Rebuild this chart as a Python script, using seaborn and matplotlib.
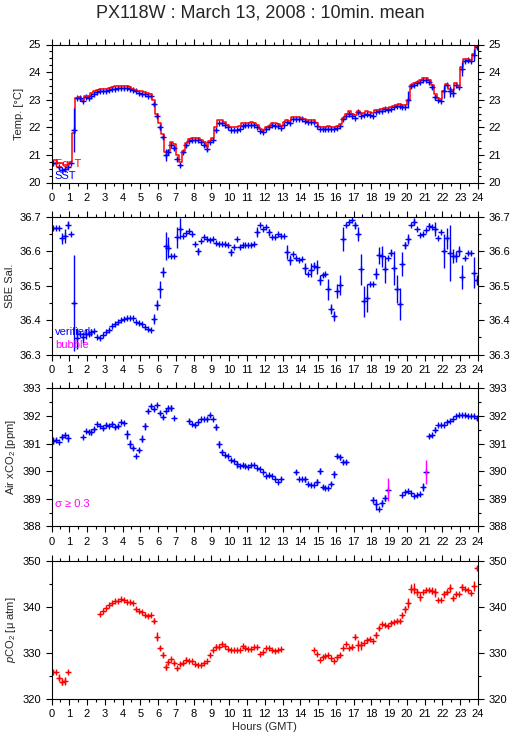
import numpy as np
import matplotlib
matplotlib.use('Agg')
import matplotlib.pyplot as plt
import seaborn as sns
from matplotlib.ticker import MultipleLocator, FormatStrFormatter

nan = np.nan

# ── 10-minute means, 144 bins, one row per hour ─────────────────────────────
sst = [
    20.72, 20.70, 20.55, 20.45, 20.50, 20.55,
    20.70, 21.90, 23.05, 23.05, 22.95, 23.10,
    23.05, 23.15, 23.22, 23.28, 23.30, 23.33,
    23.33, 23.35, 23.37, 23.40, 23.42, 23.42,
    23.42, 23.42, 23.40, 23.35, 23.30, 23.25,
    23.22, 23.20, 23.15, 23.12, 22.85, 22.40,
    22.00, 21.65, 21.00, 21.10, 21.35, 21.25,
    20.85, 20.65, 21.10, 21.35, 21.50, 21.55,
    21.55, 21.55, 21.45, 21.35, 21.20, 21.45,
    21.55, 21.90, 22.15, 22.15, 22.10, 22.00,
    21.90, 21.90, 21.90, 21.95, 22.05, 22.08,
    22.08, 22.08, 22.08, 22.00, 21.87, 21.82,
    21.95, 22.00, 22.08, 22.05, 22.05, 21.97,
    22.10, 22.20, 22.15, 22.30, 22.30, 22.30,
    22.30, 22.22, 22.20, 22.20, 22.18, 22.05,
    21.95, 21.95, 21.95, 21.95, 21.95, 21.95,
    21.98, 22.05, 22.30, 22.42, 22.50, 22.40,
    22.35, 22.55, 22.40, 22.45, 22.50, 22.45,
    22.42, 22.55, 22.58, 22.60, 22.65, 22.62,
    22.68, 22.72, 22.78, 22.78, 22.75, 22.75,
    23.00, 23.50, 23.55, 23.60, 23.65, 23.72,
    23.70, 23.65, 23.45, 23.08, 22.98, 22.95,
    23.30, 23.52, 23.30, 23.25, 23.55, 23.45,
    24.10, 24.42, 24.45, 24.40, 24.62, 24.90,
]
sst_err = {2: 0.06, 7: 0.8, 9: 0.08, 34: 0.08, 35: 0.08, 36: 0.1, 37: 0.06,
           38: 0.22, 39: 0.1, 41: 0.06, 43: 0.05, 44: 0.05, 45: 0.05, 52: 0.05,
           54: 0.05, 55: 0.08, 120: 0.3, 121: 0.08, 128: 0.08, 129: 0.1,
           132: 0.25, 134: 0.2, 135: 0.16, 138: 0.25, 142: 0.2, 143: 0.05}

eqt = [
    20.80, 20.80, 20.72, 20.72, 20.62, 20.65,
    20.75, 21.78, 23.05, 23.08, 23.00, 23.15,
    23.12, 23.25, 23.30, 23.35, 23.38, 23.40,
    23.40, 23.42, 23.45, 23.48, 23.50, 23.50,
    23.48, 23.48, 23.45, 23.40, 23.35, 23.32,
    23.30, 23.28, 23.25, 23.22, 23.00, 22.50,
    22.15, 21.75, 21.12, 21.15, 21.45, 21.38,
    21.00, 20.75, 21.15, 21.42, 21.58, 21.62,
    21.62, 21.62, 21.55, 21.45, 21.30, 21.50,
    21.62, 22.00, 22.25, 22.25, 22.18, 22.08,
    22.00, 22.00, 22.00, 22.05, 22.15, 22.15,
    22.15, 22.18, 22.15, 22.10, 21.95, 21.90,
    22.02, 22.05, 22.15, 22.15, 22.12, 22.05,
    22.18, 22.28, 22.22, 22.38, 22.38, 22.36,
    22.35, 22.30, 22.28, 22.28, 22.26, 22.15,
    22.02, 22.02, 22.02, 22.05, 22.02, 22.02,
    22.05, 22.12, 22.35, 22.50, 22.58, 22.50,
    22.45, 22.58, 22.50, 22.52, 22.58, 22.55,
    22.52, 22.62, 22.62, 22.65, 22.70, 22.70,
    22.72, 22.78, 22.82, 22.85, 22.82, 22.80,
    23.00, 23.55, 23.60, 23.65, 23.70, 23.80,
    23.78, 23.70, 23.55, 23.20, 23.05, 23.02,
    23.30, 23.58, 23.40, 23.35, 23.60, 23.50,
    24.20, 24.48, 24.48, 24.45, 24.65, 24.95,
]

sal = [
    36.666, 36.668, 36.668, 36.637, 36.645, 36.675,
    36.650, 36.450, 36.347, 36.360, 36.350, 36.360,
    36.360, 36.365, 36.368, 36.350, 36.348, 36.357,
    36.365, 36.373, 36.383, 36.390, 36.395, 36.400,
    36.403, 36.406, 36.407, 36.405, 36.395, 36.393,
    36.388, 36.380, 36.375, 36.373, 36.403, 36.445,
    36.490, 36.540, 36.615, 36.610, 36.585, 36.585,
    36.640, 36.665, 36.645, 36.652, 36.660, 36.650,
    36.622, 36.600, 36.630, 36.640, 36.635, 36.633,
    36.635, 36.623, 36.620, 36.622, 36.620, 36.618,
    36.597, 36.612, 36.635, 36.613, 36.617, 36.617,
    36.617, 36.618, 36.621, 36.655, 36.675, 36.665,
    36.670, 36.655, 36.640, 36.640, 36.650, 36.645,
    36.645, 36.597, 36.575, 36.592, 36.580, 36.575,
    36.578, 36.550, 36.535, 36.545, 36.558, 36.555,
    36.517, 36.532, 36.535, 36.490, 36.433, 36.412,
    36.485, 36.502, 36.635, 36.675, 36.685, 36.690,
    36.675, 36.650, 36.547, 36.455, 36.465, 36.505,
    36.505, 36.535, 36.588, 36.585, 36.547, 36.580,
    36.595, 36.552, 36.490, 36.447, 36.562, 36.617,
    36.635, 36.677, 36.685, 36.665, 36.648, 36.650,
    36.662, 36.672, 36.670, 36.665, 36.637, 36.655,
    36.600, 36.637, 36.595, 36.585, 36.585, 36.600,
    36.525, 36.580, 36.595, 36.595, 36.537, 36.517,
]
sal_err = {3: 0.015, 4: 0.02, 5: 0.012, 7: 0.14, 8: 0.03, 10: 0.015, 11: 0.015,
           13: 0.01, 34: 0.015, 35: 0.015, 36: 0.025, 37: 0.015, 38: 0.04,
           39: 0.03, 42: 0.03, 43: 0.03, 49: 0.01, 60: 0.01, 69: 0.015,
           73: 0.01, 79: 0.02, 80: 0.015, 85: 0.015, 87: 0.02, 88: 0.01,
           89: 0.02, 90: 0.015, 93: 0.03, 94: 0.015, 95: 0.015, 96: 0.02,
           97: 0.03, 98: 0.035, 102: 0.01, 103: 0.02, 104: 0.045, 105: 0.045,
           106: 0.04, 109: 0.015, 110: 0.025, 111: 0.03, 112: 0.04, 114: 0.01,
           115: 0.05, 116: 0.04, 117: 0.045, 118: 0.035, 119: 0.01, 120: 0.015,
           122: 0.01, 127: 0.01, 129: 0.02, 132: 0.05, 133: 0.03, 134: 0.08,
           135: 0.02, 136: 0.015, 137: 0.015, 138: 0.035, 142: 0.045, 143: 0.015}

xco2 = [
    391.10, 391.12, 391.05, 391.25, 391.30, 391.20,
    nan, nan, nan, nan, 391.22, 391.47,
    391.43, 391.42, 391.52, 391.70, 391.65, 391.55,
    391.67, 391.63, 391.72, 391.60, 391.65, 391.77,
    391.73, 391.33, 390.97, 390.85, 390.53, 390.75,
    391.18, 391.62, 392.17, 392.35, 392.25, 392.40,
    392.10, 391.97, 392.17, 392.30, 392.28, 391.92,
    nan, nan, nan, nan, 391.80, 391.70,
    391.68, 391.78, 391.90, 391.90, 391.90, 392.02,
    391.88, 391.60, 390.97, 390.68, 390.57, 390.55,
    390.40, 390.38, 390.25, 390.18, 390.23, 390.20,
    390.15, 390.22, 390.22, 390.10, 390.08, 389.97,
    389.83, 389.85, 389.82, 389.72, 389.62, 389.72,
    nan, nan, nan, nan, 389.97, 389.72,
    389.72, 389.70, 389.52, 389.48, 389.48, 389.60,
    390.00, 389.42, 389.38, 389.38, 389.55, 389.88,
    390.55, 390.50, 390.32, 390.32, nan, nan,
    nan, nan, nan, nan, nan, nan,
    388.95, 388.80, 388.63, 388.83, 389.02, 389.32,
    nan, nan, nan, nan, 389.15, 389.25,
    389.28, 389.20, 389.08, 389.12, 389.17, 389.42,
    389.97, 391.27, 391.30, 391.50, 391.68, 391.68,
    391.68, 391.78, 391.82, 391.88, 391.98, 392.02,
    392.04, 392.04, 391.98, 392.00, 392.00, 391.92,
]
xco2_err = {0: 0.12, 1: 0.08, 3: 0.08, 4: 0.06, 5: 0.15, 12: 0.06, 13: 0.1,
            14: 0.06, 17: 0.07, 18: 0.08, 20: 0.07, 21: 0.06, 22: 0.07,
            25: 0.15, 26: 0.15, 27: 0.07, 29: 0.07, 30: 0.13, 31: 0.12,
            32: 0.07, 33: 0.05, 34: 0.07, 36: 0.08, 37: 0.07, 39: 0.07,
            40: 0.1, 46: 0.07, 48: 0.05, 52: 0.05, 53: 0.05, 55: 0.12,
            56: 0.12, 57: 0.08, 60: 0.05, 62: 0.12, 66: 0.05, 67: 0.05,
            77: 0.06, 82: 0.07, 85: 0.08, 89: 0.1, 90: 0.12, 91: 0.08,
            94: 0.07, 95: 0.12, 96: 0.07, 97: 0.1, 98: 0.08, 99: 0.08,
            108: 0.12, 109: 0.2, 111: 0.12, 112: 0.12, 113: 0.42, 125: 0.15,
            126: 0.42, 127: 0.08, 128: 0.05, 129: 0.1, 142: 0.05, 143: 0.06}

pco2 = [
    325.9, 325.9, 324.6, 323.7, 323.8, 325.9,
    nan, nan, nan, nan, nan, nan,
    nan, nan, nan, nan, 338.5, 339.1,
    339.8, 340.3, 340.9, 341.3, 341.3, 341.6,
    341.4, 341.1, 341.0, 340.7, 339.4, 339.0,
    338.9, 338.3, 337.9, 338.2, 337.0, 333.5,
    331.0, 329.6, 326.9, 327.9, 328.7, 327.7,
    326.6, 327.6, 327.8, 328.5, 328.3, 328.3,
    327.6, 327.3, 327.3, 327.7, 328.3, 329.6,
    330.6, 331.3, 331.3, 331.8, 331.4, 330.7,
    330.5, 330.5, 330.5, 330.6, 331.5, 331.0,
    330.9, 330.9, 331.3, 331.2, 329.8, 330.2,
    331.0, 331.1, 330.6, 330.3, 330.6, 330.9,
    nan, nan, nan, nan, nan, nan,
    nan, nan, nan, nan, 330.6, 329.8,
    328.5, 329.1, 329.3, 329.5, 328.9, 328.2,
    329.0, 329.5, 331.1, 331.8, 331.1, 331.3,
    333.5, 331.6, 331.6, 332.2, 332.7, 333.0,
    332.6, 333.9, 335.4, 336.2, 336.0, 335.8,
    336.5, 336.6, 336.9, 336.9, 338.1, 339.4,
    340.8, 343.9, 343.9, 343.1, 342.2, 343.2,
    343.6, 343.6, 343.5, 343.1, 341.5, 341.5,
    342.7, 343.3, 344.0, 341.8, 342.8, 342.8,
    344.2, 343.9, 343.6, 342.9, 344.5, 348.4,
]
pco2_err = {2: 0.8, 3: 0.8, 4: 0.9, 34: 0.6, 35: 1.0, 36: 0.5, 37: 0.5, 38: 0.6,
            39: 0.5, 41: 0.4, 42: 0.3, 43: 0.4, 44: 0.5, 45: 0.5, 53: 0.3,
            55: 0.6, 56: 0.5, 96: 0.5, 97: 0.5, 101: 0.5, 102: 0.5, 103: 1.2,
            104: 1.0, 106: 0.5, 109: 0.6, 110: 0.4, 113: 0.4, 114: 0.5,
            116: 0.4, 117: 0.4, 118: 0.6, 119: 0.7, 120: 1.0, 121: 1.0,
            122: 1.2, 123: 0.8, 124: 0.9, 126: 0.4, 127: 0.4, 128: 0.7,
            129: 0.9, 132: 0.7, 133: 0.5, 134: 0.9, 135: 0.5, 136: 0.5,
            138: 0.7, 141: 0.3, 142: 1.0, 143: 0.4}

hours = (np.arange(144) + 0.5) / 6.0   # bin centres (GMT hours)
HALF_BIN = 1 / 12.0

BLUE, RED, MAGENTA = '#0000ff', '#ff0000', '#ff00ff'
LW = 1.0

sns.set_style('ticks')
plt.rcParams['font.family'] = ['Liberation Sans', 'DejaVu Sans']
plt.rcParams['mathtext.fontset'] = 'custom'
plt.rcParams['mathtext.rm'] = 'Liberation Sans'
plt.rcParams['mathtext.it'] = 'Liberation Sans:italic'
plt.rcParams['axes.linewidth'] = 0.8


def draw(ax, vals, errs, color, sigma_hi=None):
    y = np.array(vals, dtype=float)
    # horizontal arm of each cross spans its 10-min bin
    ax.errorbar(hours, y, xerr=HALF_BIN, fmt='none', ecolor=color,
                elinewidth=LW, capsize=0)
    sns.scatterplot(x=hours, y=y, marker='+', color=color, s=15,
                    linewidth=LW, ax=ax, legend=False)
    idx = np.array(sorted(errs))
    e = np.array([errs[i] for i in idx])
    hi = e >= sigma_hi if sigma_hi is not None else np.zeros(len(e), bool)
    ax.errorbar(hours[idx[~hi]], y[idx[~hi]], yerr=e[~hi], fmt='none',
                ecolor=color, elinewidth=LW, capsize=0)
    if hi.any():
        ax.errorbar(hours[idx[hi]], y[idx[hi]], yerr=e[hi], fmt='none',
                    ecolor=MAGENTA, elinewidth=LW, capsize=0)


def style(ax, lo, hi, major, minor, fmt, label):
    ax.set_xlim(0, 24)
    ax.set_ylim(lo, hi)
    ax.xaxis.set_major_locator(MultipleLocator(1))
    ax.xaxis.set_minor_locator(MultipleLocator(0.5))
    ax.yaxis.set_major_locator(MultipleLocator(major))
    ax.yaxis.set_minor_locator(MultipleLocator(minor))
    ax.yaxis.set_major_formatter(FormatStrFormatter(fmt))
    ax.tick_params(which='both', direction='out', top=True, right=True,
                   labelright=True, width=0.8, colors='black', labelsize=8)
    ax.tick_params(which='major', length=4)
    ax.tick_params(which='minor', length=2.3)
    ax.set_ylabel(label, fontsize=8, labelpad=3)
    ax.set_xlabel('')
    for s in ax.spines.values():
        s.set_visible(True)
        s.set_color('black')


fig = plt.figure(figsize=(5.15, 7.39), dpi=100)
W, H = 515, 739
tops = [44.5, 216.7, 388.3, 560.7]
axes = [fig.add_axes([51.5 / W, 1 - (t + 138) / H, 426.5 / W, 138 / H]) for t in tops]
ax1, ax2, ax3, ax4 = axes

# Temperature: equilibrator T as a stepped trace, SST as crosses
ax1.plot(hours, np.array(eqt), drawstyle='steps-mid', color=RED, lw=1.1)
draw(ax1, sst, sst_err, BLUE)
style(ax1, 20, 25, 1, 0.25, '%d', 'Temp. [°C]')
ax1.text(0.008, 0.135, 'Eq. T', color=RED, fontsize=8, transform=ax1.transAxes, va='center')
ax1.text(0.008, 0.05, 'SST', color=BLUE, fontsize=8, transform=ax1.transAxes, va='center')

# Salinity
draw(ax2, sal, sal_err, BLUE)
style(ax2, 36.3, 36.7, 0.1, 0.05, '%.1f', 'SBE Sal.')
ax2.text(0.008, 0.165, 'verified', color=BLUE, fontsize=8, transform=ax2.transAxes, va='center')
ax2.text(0.008, 0.07, 'bubble', color=MAGENTA, fontsize=8, transform=ax2.transAxes, va='center')

# Air xCO2
draw(ax3, xco2, xco2_err, BLUE, sigma_hi=0.3)
style(ax3, 388, 393, 1, 0.5, '%d', 'Air xCO$_2$ [ppm]')
ax3.text(0.008, 0.16, 'σ ≥ 0.3', color=MAGENTA, fontsize=8, transform=ax3.transAxes, va='center')

# pCO2
draw(ax4, pco2, pco2_err, RED)
style(ax4, 320, 350, 10, 5, '%d', '$p$CO$_2$ [μ atm]')
ax4.set_xlabel('Hours (GMT)', fontsize=8, labelpad=2)

fig.text(0.505, 1 - 13.5 / H, 'PX118W : March 13, 2008 : 10min. mean',
         ha='center', va='center', fontsize=13)

fig.savefig('out.png', dpi=100)
